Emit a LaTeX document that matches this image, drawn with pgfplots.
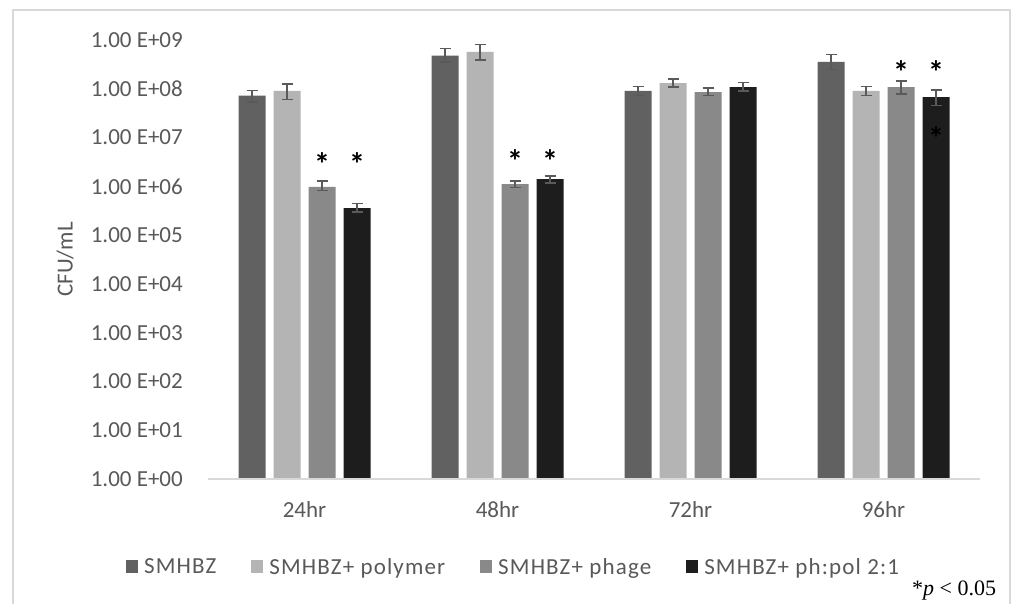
\documentclass[border=0pt]{standalone}
\usepackage{pgfplots}
\pgfplotsset{compat=1.18}
\usepackage{fontspec}
\setmainfont{Carlito}
\newfontfamily\legfont[LetterSpace=5]{Carlito}
\newfontfamily\timesfont{Liberation Serif}
\definecolor{cA}{HTML}{616161}
\definecolor{cB}{HTML}{B4B4B4}
\definecolor{cC}{HTML}{898989}
\definecolor{cD}{HTML}{1D1D1D}
\definecolor{txt}{HTML}{595959}
\definecolor{framec}{HTML}{D9D9D9}
\definecolor{errc}{HTML}{5A5A5A}
\begin{document}
\begin{tikzpicture}
\useasboundingbox (0,0) rectangle (1016bp,604bp);
\fill[white] (0,0) rectangle (1016bp,604bp);
\draw[framec, line width=1.5bp] (13bp,-10bp) -- (13bp,594bp) -- (1010bp,594bp) -- (1010bp,-10bp);
\begin{axis}[
  at={(208bp,125bp)}, anchor=south west,
  scale only axis, width=772bp, height=439bp,
  ymode=log, log basis y=10, ymin=1, ymax=1e9,
  xmin=-0.5, xmax=3.5,
  ybar=8bp, bar width=27bp,
  axis line style={draw=none},
  major tick length=0pt,
  xtick={0,1,2,3}, xticklabels={24hr,48hr,72hr,96hr},
  ytick={1e0,1e1,1e2,1e3,1e4,1e5,1e6,1e7,1e8,1e9},
  yticklabels={1.00 E+00,1.00 E+01,1.00 E+02,1.00 E+03,1.00 E+04,1.00 E+05,1.00 E+06,1.00 E+07,1.00 E+08,1.00 E+09},
  every tick label/.append style={font=\fontsize{23bp}{27bp}\selectfont, text=txt},
  yticklabel style={anchor=east, inner sep=0pt, xshift=-25bp},
  xticklabel style={anchor=base, inner sep=0pt, yshift=-39bp},
  ylabel={CFU/mL},
  every axis y label/.style={at={(axis description cs:-0.185,0.5)}, rotate=90, anchor=center, font=\fontsize{23bp}{27bp}\selectfont, text=txt},
  legend columns=4,
  legend style={draw=none, fill=none, inner sep=0pt, at={(axis description cs:-0.1062,-0.2005)}, anchor=west,
    font=\legfont\fontsize{23bp}{27bp}\selectfont, text=txt, nodes={inner sep=0pt},
    /tikz/every even column/.append style={column sep=35bp}},
  legend image code/.code={\fill[#1] (0bp,-6bp) rectangle (12bp,7bp); \path (18bp,0bp);},
  error bars/y dir=both, error bars/y explicit,
  error bars/error bar style={errc, line width=1.5bp},
  error bars/error mark options={rotate=90, mark size=5.5bp, line width=1.5bp, errc},
  clip=false,
]
\addplot[fill=cA, draw=none] coordinates {
  (0,7.2e7) += (0,2.1e7) -= (0,1.8e7)
  (1,4.8e8) += (0,1.9e8) -= (0,1.25e8)
  (2,9.06e7) += (0,2.2e7) -= (0,1.7e7)
  (3,3.56e8) += (0,1.45e8) -= (0,1.06e8)
};
\addplot[fill=cB, draw=none] coordinates {
  (0,9.06e7) += (0,3.5e7) -= (0,3.06e7)
  (1,5.7e8) += (0,2.35e8) -= (0,1.84e8)
  (2,1.3e8) += (0,3.0e7) -= (0,2.0e7)
  (3,9.06e7) += (0,2.0e7) -= (0,1.86e7)
};
\addplot[fill=cC, draw=none] coordinates {
  (0,9.8e5) += (0,3.0e5) -= (0,1.5e5)
  (1,1.11e6) += (0,1.7e5) -= (0,1.6e5)
  (2,8.5e7) += (0,1.9e7) -= (0,1.3e7)
  (3,1.08e8) += (0,3.5e7) -= (0,3.0e7)
};
\addplot[fill=cD, draw=none] coordinates {
  (0,3.57e5) += (0,9e4) -= (0,5.7e4)
  (1,1.4e6) += (0,2.4e5) -= (0,2.2e5)
  (2,1.08e8) += (0,2.7e7) -= (0,1.7e7)
  (3,6.76e7) += (0,2.6e7) -= (0,2.2e7)
};
\legend{SMHBZ,SMHBZ+ polymer,SMHBZ+ phage,SMHBZ+ ph:pol 2:1}
\draw[framec, line width=1.5bp] (rel axis cs:0,0) -- (rel axis cs:1,0);
\tikzset{star/.style={font=\bfseries\fontsize{32bp}{32bp}\selectfont, text=black, inner sep=0pt, anchor=center, yshift=-5.5bp}}
\node[star] at (axis cs:0.0907,3.8e6) {*};
\node[star] at (axis cs:0.272,3.8e6) {*};
\node[star] at (axis cs:1.0907,4.37e6) {*};
\node[star] at (axis cs:1.272,4.37e6) {*};
\node[star] at (axis cs:3.0907,2.79e8) {*};
\node[star] at (axis cs:3.272,2.79e8) {*};
\node[star] at (axis cs:3.272,1.24e7) {*};
\end{axis}
\node[anchor=base west, inner sep=0pt, font=\timesfont\fontsize{22bp}{22bp}\selectfont] at (912bp,9bp) {*\textit{p} < 0.05};
\end{tikzpicture}
\end{document}
